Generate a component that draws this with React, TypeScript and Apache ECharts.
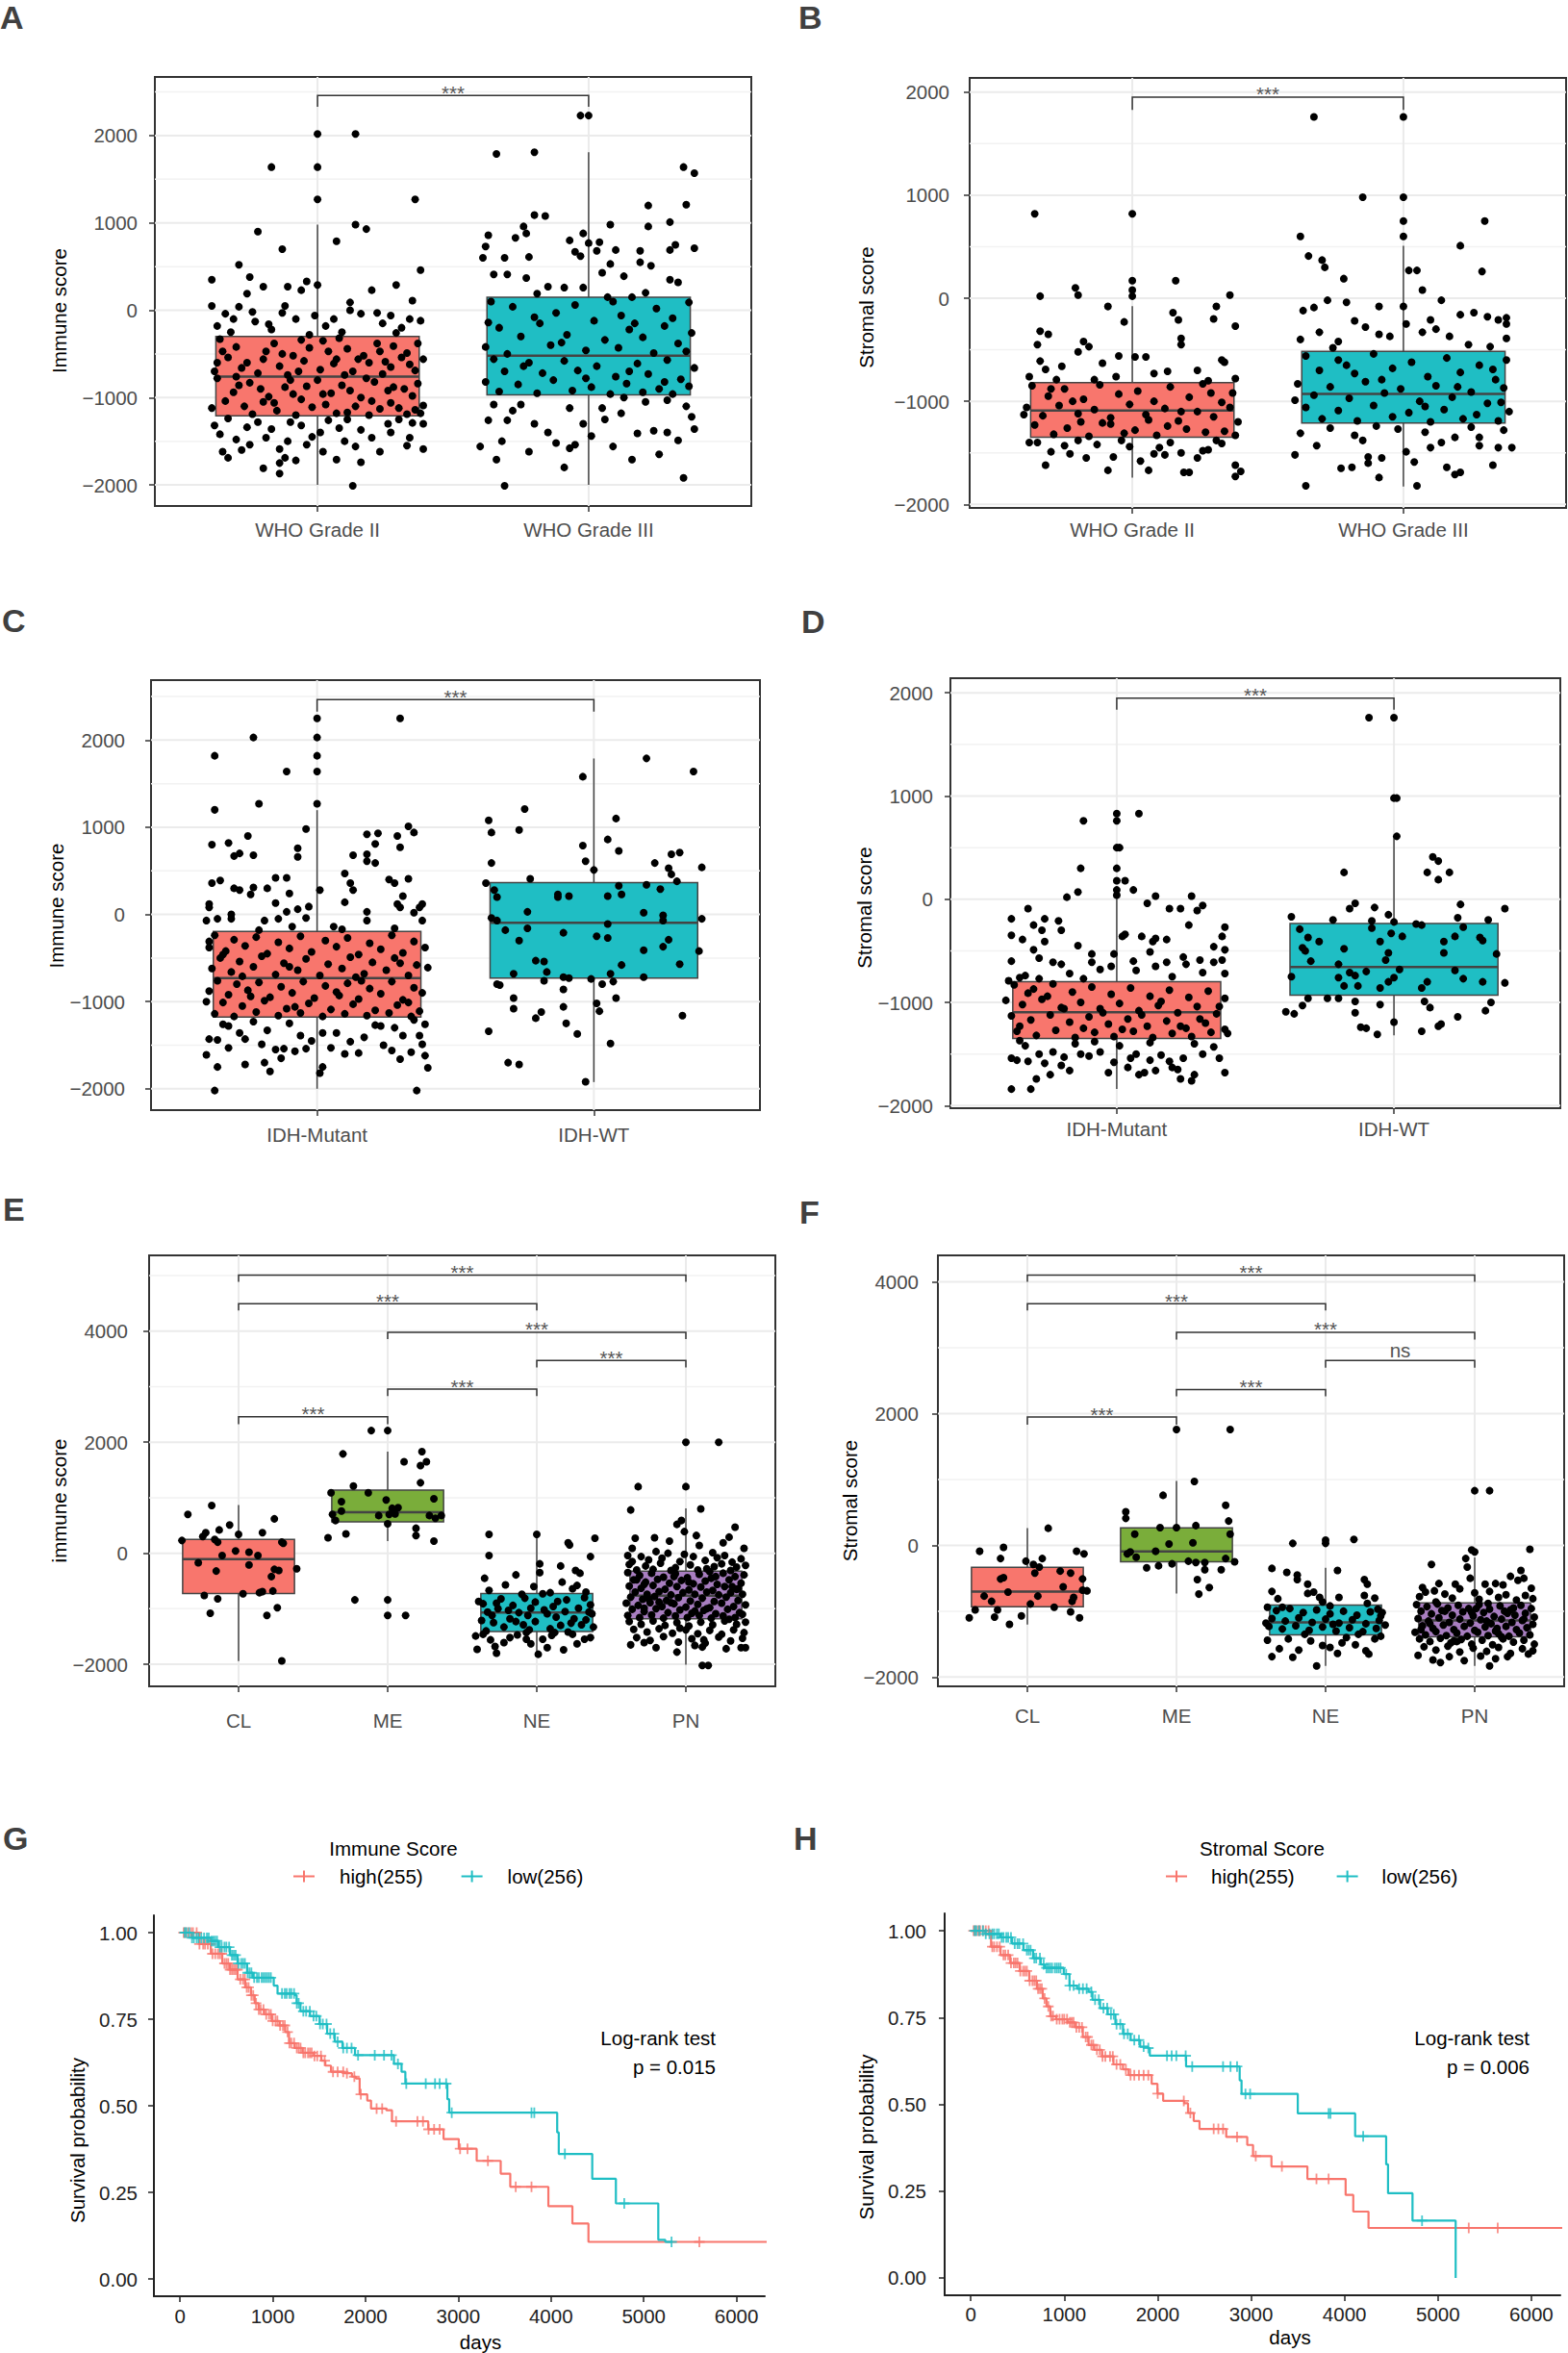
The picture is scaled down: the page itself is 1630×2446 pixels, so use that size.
import React, { useEffect, useRef } from 'react';
import * as echarts from 'echarts';

const FONT = 'Liberation Sans, Arial, Helvetica, sans-serif';
const FS = 20.5;
const RED = '#F8766D';
const GREEN = '#7AAD3A';
const CYAN = '#1FBEC4';
const PURPLE = '#A87EC0';

// ---------- categories ----------
const catsGrade = ['WHO Grade II', 'WHO Grade III'];
const catsIDH = ['IDH-Mutant', 'IDH-WT'];
const catsSub = ['CL', 'ME', 'NE', 'PN'];

// ---------- box statistics: [lower whisker, Q1, median, Q3, upper whisker] ----------
const boxA = [[-2000, -1210, -760, -300, 980], [-2000, -970, -520, 150, 1810]];
const boxB = [[-1740, -1350, -1090, -820, -76], [-1828, -1210, -928, -515, 509]];
const boxC = [[-2000, -1178, -731, -194, 1196], [-1923, -731, -95, 366, 1789]];
const boxD = [[-1839, -1348, -1094, -800, 20], [-1319, -930, -658, -236, 607]];
const boxE = [[-1944, -727, -106, 248, 870], [217, 565, 739, 1137, 1832], [-1820, -1410, -1068, -727, 373], [-2006, -1180, -764, -323, 807]];
const boxF = [[-1204, -932, -702, -335, 262], [-733, -251, -94, 267, 979], [-1832, -1361, -1168, -906, -340], [-1832, -1387, -1141, -874, -183]];

// ---------- significance brackets: [x1, x2, bar value, end value] ----------
const brA = [[1, 2, 2460, 2330]];
const brB = [[1, 2, 1952, 1828]];
const brC = [[1, 2, 2465, 2327]];
const brD = [[1, 2, 1949, 1836]];
const brE = [[1, 2, 2460, 2323], [2, 3, 2957, 2832], [3, 4, 3472, 3348], [2, 4, 3981, 3857], [1, 3, 4497, 4373], [1, 4, 5012, 4888]];
const brF = [[1, 2, 1948, 1832], [2, 3, 2366, 2262], [3, 4, 2806, 2696], [2, 4, 3236, 3126], [1, 3, 3670, 3565], [1, 4, 4105, 4000]];
const lblA = ['***'];
const lblE = ['***', '***', '***', '***', '***', '***'];
const lblF = ['***', '***', 'ns', '***', '***', '***'];

// ---------- jittered points: flat pairs [jitter (hundredths of a category), score] ----------
const ptsA_II = [
  14, 2020, 0, 2020, -17, 1640, 0, 1640, 0, 1270, 36, 1270, -22, 900, 14, 980, 18, 930, 7, 790, -13, 700, 38, 460, -29, 520, -39, 350, -25, 380, -4, 330, 0, 290, 20, 230, 29, 290, 35, 110, -26, 190, -20, 270, -11, 270, -6, 230, -12, 50, -39, 50, -29, 40, -34, -40, -13, -30, 12, 90, 12, 0, 27, -60, 34, -100, 6, -100, -1, -60, -37, -180, -8, -100, -31, -100, 24, -150, 31, -200, -17, -220, 9, -250, 38, -120, -3, -280, 16, -40, -23, -130,
  -32, -250, -18, -160, 22, -30, 3, -180, -24, -20, 29, -260,
  -36, -330, -30, -420, -19, -470, -9, -520, 2, -350, 11, -440, 22, -380, 33, -490, 39, -560, -26, -600, -14, -640, -5, -580, 6, -610, 17, -520, 27, -650, 36, -690, -38, -700, -22, -720, -11, -740, 1, -680, 13, -700, 24, -730, 31, -540, -33, -540, -3, -430, 8, -320, 19, -600, 28, -410, -16, -380, -28, -660, 37, -380, -7, -700, 15, -560, 4, -470, -20, -560, 25, -590, 10, -740, -35, -470,
  -37, -600, -6, -340, 23, -470, 34, -620, -13, -500, 7, -560,
  -37, -780, -25, -830, -12, -880, 0, -800, 9, -860, 21, -820, 32, -900, 39, -1090, -31, -940, -18, -990, -6, -1020, 5, -950, 16, -1000, 27, -1060, 35, -980, -39, -1120, -27, -1100, -15, -1150, -2, -1110, 11, -1170, 23, -1130, 33, -1190, -21, -900, 18, -780, -34, -1040, 3, -1080, 26, -920, -9, -960, 14, -1100, 37, -840, -29, -860, 7, -1180, -16, -1060, 30, -1120, -4, -870, 20, -1040, -24, -1190, 38, -1180, -10, -800, 12, -920,
  -30, -760, 2, -960, -20, -1050, 28, -880, 36, -1140, -8, -1200, 19, -1200,
  -38, -1320, -36, -1420, -35, -1620, -33, -1690, -20, -1810, -14, -1870, -14, -1750, -12, -1690, -28, -1600, -25, -1540, -4, -1540, 1, -1400, 7, -1710, 13, -2010, 14, -1560, 16, -1740, 20, -1460, 26, -1300, 34, -1460, 39, -1590, 39, -1300, 35, -1290, -11, -1500, -10, -1280, -6, -1320, 4, -1260, 10, -1500, 16, -1370, -17, -1360, -14, -1590, -19, -1460, -30, -1480, -26, -1340, 30, -1250, -2, -1450, 23, -1620, 8, -1350, -8, -1720,
  -33, -1240, 2, -1620, 27, -1400, 33, -1550, -22, -1280, 11, -1250,
];
const ptsA_III = [
  -3, 2230, 0, 2230,
  -34, 1790, -20, 1810, 35, 1640, 39, 1570, 22, 1200, 36, 1210, 8, 980, 30, 1010, -20, 1090, -16, 1080, -24, 960, -23, 880, -37, 860, -38, 730, -39, 600, 39, 710, 32, 750, 30, 690, 22, 960, -2, 880, 0, 770, 4, 780, 10, 690, 19, 680, -7, 800, -5, 670, -3, 620, -31, 600, -27, 830, -22, 610, 3, 680, 8, 530, 23, 510, 19, 550, -35, 410, -30, 410, -23, 370, 5, 430, 13, 390, 30, 350, 33, 320, -15, 270, -9, 260, -2, 260, 7, 150, 16, 150, 21, 200, -19, 190, -37, -140,
  -36, 100, -28, 40, -12, -30, -5, 60, 12, -60, 25, 20, 37, 90, -33, -200, -18, -150, 2, -120, 15, -220, 28, -180, 38, -260, -25, -300, -8, -280, 6, -340, 20, -310, 33, -380, -38, -420, -14, -400, -1, -460, 11, -430, 24, -490, 36, -470, -30, -500, -20, -80, 9, 100, 31, -90, -10, -370, 17, -150,
  -35, -560, -22, -600, -9, -580, 3, -640, 18, -610, 29, -570, 39, -660, -31, -700, -17, -720, -4, -690, 10, -760, 22, -730, 34, -790, -38, -820, -26, -850, -13, -800, 1, -880, 14, -840, 26, -900, 37, -870, -33, -930, -19, -950, -6, -920, 8, -960, 20, -940, 31, -960, -24, -640, 15, -700, -1, -780, 28, -820,
  -31, -2010, -9, -1800, 16, -1710, 35, -1920, -34, -1710, -40, -1560, -32, -1500, -12, -1520, -7, -1580, -5, -1540, 1, -1440, 9, -1560, 18, -1410, 24, -1380, 29, -1400, 33, -1490, 39, -1360, 38, -1220, -30, -1260, -25, -1080, -20, -1300, -37, -1260, -35, -1080, 5, -1120, 12, -1180, 21, -1050, 29, -1030, -7, -1120, -15, -1400, -2, -1300, 6, -1250, 26, -1650, -22, -1620, 13, -1000, -28, -1150, 36, -1100,
];
const ptsB_II = [
  -36, 820, 0, 820, 0, 170, 16, 170, 0, 80, 0, 20, -34, 20,
  -21, 100, -20, 30, -34, -320, -31, -350, 36, 30, 31, -80, 30, -200, 38, -270, 15, -140, 17, -210, -3, -230, -9, -80, 18, -390, 18, -450, -35, -450, -18, -420, -16, -470, -20, -520, 33, -600, 34, -620, -11, -630, -5, -560, 1, -570, 5, -570, -34, -610, -32, -690, -26, -660, 8, -730, 13, -710, -38, -760, -28, -790, 24, -700, 38, -780, -6, -760, 28, -800, -14, -790,
  -37, -850, -25, -880, -12, -840, 2, -900, 14, -860, 26, -830, 37, -920, -31, -950, -18, -980, -5, -930, 8, -1000, 21, -960, 33, -1010, -39, -1060, -27, -1040, -14, -1080, -1, -1030, 12, -1070, 24, -1100, 36, -1060, -33, -1140, -20, -1120, -8, -1160, 5, -1130, 17, -1190, 30, -1150, 39, -1200, -36, -1230, -24, -1260, -11, -1210, 1, -1280, 13, -1240, 27, -1300, -29, -1320, -16, -1340, -3, -1310, 9, -1330, 20, -1270, 34, -1290, -40, -1130, -22, -1000, 29, -920, -8, -1220, 18, -1100, 38, -1330, -30, -880, 6, -1180, -19, -1200,
  -32, -1620, -9, -1670, 6, -1670, 19, -1690, 21, -1690, 38, -1730, 40, -1680, 38, -1620, -17, -1550, -23, -1510, -7, -1540, 3, -1580, 8, -1510, 12, -1520, 18, -1500, 24, -1550, 26, -1480, -38, -1400, -35, -1400, -25, -1430, -13, -1420, -1, -1440, 14, -1400, 28, -1470, 33, -1410, -30, -1490, -4, -1380, 31, -1380, -20, -1380, 10, -1450,
];
const ptsB_III = [
  -33, 1760, 0, 1760, -15, 980, 0, 980, 0, 750, 30, 750, 0, 600, -38, 600,
  21, 510, -35, 410, -30, 370, -29, 300, -22, 190, 2, 270, 5, 270, 29, 260, 7, 80, -28, -20, -21, -40, 14, -20, -9, -80, 0, -80, -37, -120, -33, -90, 21, -160, 26, -140, 31, -180, 38, -190, 38, -250, 38, -390, 1, -250, 10, -210, -18, -220, -31, -330, -14, -280, -38, -400, 17, -370, 12, -300, 7, -330, -9, -350, -5, -370, -24, -420, 35, -210, 32, -470, -26, -480, 24, -450,
  -36, -560, -24, -600, -11, -540, 3, -620, 16, -580, 28, -650, 38, -600, -31, -700, -18, -730, -4, -680, 9, -760, 21, -720, 34, -790, -39, -830, -27, -860, -14, -810, -1, -880, 12, -850, 25, -910, 37, -870, -33, -940, -20, -970, -7, -920, 6, -1000, 18, -960, 31, -1020, -36, -1060, -24, -1090, -11, -1040, 2, -1110, 15, -1080, 27, -1130, 39, -1100, -30, -1170, -17, -1190, -4, -1150, 10, -1200, 22, -1170, 35, -1190, -40, -990, 33, -690, -21, -650, 8, -1050, -8, -790, 20, -860, 36, -1010,
  -36, -1820, 5, -1820, -9, -1740, -23, -1650, -19, -1640, -13, -1600, -13, -1540, -8, -1550, 1, -1490, 4, -1590, 16, -1640, 19, -1710, 21, -1690, 33, -1620, 35, -1450, 40, -1450, 14, -1400, 10, -1450, -40, -1520, -32, -1430, -18, -1330, -15, -1380, 28, -1430, -38, -1310, 19, -1350, 28, -1350, -27, -1260, -2, -1270, 8, -1300, 25, -1250, 37, -1280, -10, -1240,
];
const ptsC_MUT = [
  0, 2250, 30, 2250, -23, 2030, 0, 2030, -37, 1820, 0, 1820, -11, 1640, 0, 1640, -21, 1270, 0, 1270, -37, 1200,
  -38, 800, -32, 820, -25, 900, -30, 670, -28, 700, -23, 680, -7, 760, -7, 660, -4, 980, 18, 920, 22, 930, 21, 810, 29, 900, 30, 770, 35, 940, 33, 1010, 13, 680, 18, 690, 18, 610, 21, 590, 10, 470, 12, 360, 13, 280, 26, 400, 28, 360, 33, 410, -38, 360, -35, 390, -15, 420, -11, 420, -30, 300, -28, 280, -24, 230, -23, 310, -18, 300, -10, 240, 1, 280, 10, 140, 31, 210, 29, 120, 30, 80, 37, 80, 38, 120, -39, 120, -39, 80, -31, 0, -31, -50, -36, -50, -40, -70, -15, 130, -11, 30, -7, 60, -4, -40, -3, 90, 18, 30, 18, -70, 35, 20, 38, -70, -19, -70, -14, -50, -9, -140, 6, -140, 9, -170, -21, -180, -39, -310, 28, -160,
  -37, -240, -30, -290, -22, -260, -14, -320, -6, -250, 3, -300, 11, -270, 19, -330, 27, -240, 35, -310, -39, -380, -33, -420, -26, -360, -18, -450, -10, -390, -2, -430, 7, -370, 15, -460, 23, -400, 31, -440, 39, -380, -35, -500, -28, -540, -20, -480, -12, -560, -4, -510, 4, -570, 12, -490, 20, -550, 28, -500, 36, -580, -38, -620, -31, -660, -23, -600, -15, -690, -7, -640, 1, -700, 9, -620, 17, -680, 25, -640, 33, -700, 40, -610, -27, -710, 14, -720, -10, -600, 30, -560, -34, -460,
  -36, -760, -29, -800, -21, -780, -13, -830, -5, -770, 3, -820, 11, -790, 19, -850, 27, -770, 35, -840, -39, -880, -32, -920, -25, -870, -17, -950, -9, -900, -1, -960, 7, -890, 15, -970, 23, -910, 31, -980, 38, -900, -34, -1010, -27, -1050, -19, -990, -11, -1080, -3, -1020, 5, -1090, 13, -1030, 21, -1100, 29, -1040, 37, -1110, -37, -1140, -30, -1170, -22, -1120, -14, -1160, -6, -1130, 2, -1170, 10, -1140, 18, -1160, 26, -1130, 34, -1170, -24, -940, 16, -760, -8, -1060, 33, -1010, -40, -1000, 8, -930,
  -40, -1610, -36, -1750, -26, -1720, -19, -1700, -17, -1800, 1, -1820, 2, -1750, -37, -2020, 36, -2020, 40, -1760, 39, -1620, 38, -1490, 34, -1580, 27, -1560, 24, -1500, 15, -1590, 10, -1600, 5, -1530, -4, -1540, -8, -1570, -12, -1540, -15, -1550, -20, -1490, -32, -1530, -36, -1440, -39, -1430, -26, -1430, -32, -1280, -34, -1260, -28, -1360, -6, -1390, -2, -1450, 2, -1360, 7, -1360, 12, -1460, 21, -1270, 23, -1280, 28, -1300, 31, -1390, 37, -1390, 39, -1260, 35, -1210, -23, -1230, -10, -1250, 17, -1410, -18, -1330, 30, -1660, -13, -1650,
];
const ptsC_WT = [
  19, 1790, 36, 1640, -4, 1580, -25, 1210, 8, 1100, -38, 1080, -37, 940, -27, 970, 5, 860, -4, 790, 9, 730, -37, 590, -3, 610, 0, 510, 22, 590, 28, 690, 31, 710, 27, 530, 28, 460, 39, 540, -23, 410, -39, 360, -36, 280, 9, 330, 19, 340, 24, 290, 30, 380, -13, 230, -13, 200, -9, 210, 10, 230, 5, 210, -35, 200, -24, 30, 18, 20, 25, -10, 25, -70, 39, -50, -37, -40, -35, -70, 5, -110, -32, -180, -24, -160, -11, -210, 1, -250, 5, -270, -27, -300, 27, -290, 25, -370, 18, -410, 38, -420, -21, -530, -18, -540, 10, -580, 31, -570, -29, -680, 6, -680, -17, -660, -18, -760, 18, -720, -11, -720, -9, -730, -1, -740, -35, -800, -34, -810, 3, -800, 7, -770, -11, -860, -29, -960, 8, -960, 1, -1020, 2, -1110, -29, -1080, -19, -1120, -21, -1190, -11, -1060, -10, -1250, -6, -1370, 32, -1160, -38, -1340, 6, -1480, -31, -1700, -27, -1720, -3, -1920,
];
const ptsD_MUT = [
  0, 830, 8, 830, -12, 760, 0, 760, 0, 500, 1, 500, -13, 300, 0, 300, 0, 180, 3, 180, 0, 90, 0, 40, 6, 90,
  -14, 70, -18, 20, 14, 30, 27, 30, 11, -40, 19, -90, 23, -90, 29, -110, 31, -60, -32, -90, -38, -190, -30, -250, -26, -190, -27, -300, -21, -210, -20, -300, 26, -250, 39, -270, 38, -360, -38, -350, -34, -390, -26, -410, -30, -490, -14, -450, 2, -360, 3, -340, 9, -360, 13, -410, 14, -380, 18, -390, 35, -460, 39, -490, -38, -600, -28, -570, -23, -610, -20, -630, -9, -530, -9, -610, -6, -680, -1, -530, -2, -650, 6, -600, 12, -510, 14, -650, 18, -610, 24, -560, 25, -630, 30, -590, 35, -610, 38, -590, 39, -720, -39, -790, -35, -760, -33, -740, -28, -770, 7, -690, 31, -710, -17, -720, -12, -770, 20, -750,
  -37, -830, -30, -870, -23, -820, -16, -900, -9, -850, -2, -920, 5, -860, 12, -940, 19, -880, 26, -950, 33, -890, 39, -960, -40, -980, -34, -1020, -27, -970, -20, -1050, -13, -1000, -6, -1060, 1, -1010, 8, -1080, 15, -1030, 22, -1100, 29, -1040, 36, -1110, -38, -1130, -31, -1170, -24, -1120, -17, -1190, -10, -1140, -3, -1210, 4, -1160, 11, -1230, 18, -1180, 25, -1250, 32, -1200, 39, -1260, -36, -1280, -29, -1320, -22, -1270, -15, -1340, -8, -1290, -1, -1330, 6, -1280, 13, -1340, 20, -1300, 27, -1330, 34, -1290, -25, -940, 9, -1120, -12, -1250, 30, -1160, -35, -1230, 16, -990, -5, -1100, 23, -1230, -19, -1060, 37, -1040, -32, -910, 2, -1260,
  -38, -1840, -31, -1840, -29, -1740, -24, -1700, -17, -1660, -20, -1610, -3, -1680, 4, -1630, 8, -1700, 10, -1680, 14, -1660, 20, -1630, 22, -1650, 23, -1740, 27, -1760, 28, -1700, 39, -1680, -38, -1540, -36, -1560, -32, -1570, -28, -1500, -26, -1590, -23, -1480, -19, -1530, -13, -1500, -10, -1520, -6, -1480, -1, -1580, 5, -1540, 7, -1500, 12, -1560, 16, -1510, 19, -1570, 24, -1540, 31, -1500, 35, -1430, 37, -1540, 40, -1300, -33, -1420, -15, -1400, 1, -1420, 28, -1400, -8, -1380, 12, -1390, -35, -1370,
];
const ptsD_WT = [
  -9, 1760, 0, 1760, 0, 980, 1, 980, 1, 610, 14, 410, 16, 370, 12, 260, 20, 260, -18, 260, 16, 190, -14, -40, -16, -90, -7, -80, 24, -50, 40, -90, -37, -170, -22, -200, -8, -210, 0, -220, -2, -150, 8, -240, 10, -250, 23, -180, 25, -270, 34, -200, -34, -290, -8, -280, -1, -330, 3, -360, 22, -360, 31, -370, 32, -400, -31, -370, -27, -410, -5, -410, 18, -410, -33, -470, -32, -500, -18, -480, -2, -520, 18, -520, -30, -600, -3, -590, -20, -630, 2, -680, 22, -690, 37, -530, -37, -750, -20, -760, -16, -710, -14, -740, -10, -700, 0, -760, -2, -800, 12, -800, 25, -770, 32, -800, 40, -810, -18, -840, -13, -840, -5, -860, 10, -860, -31, -960, -24, -960, -20, -960, -39, -1090, -36, -1110, -33, -1030, -14, -990, -14, -1100, -5, -1020, 11, -990, 13, -1050, 17, -1210, 23, -1140, 35, -1000, 33, -1080, -12, -1240, -10, -1250, -6, -1310, 0, -1190, 10, -1280, 16, -1230,
];
const ptsE_CL = [
  -18, 860, -34, 700, 24, 620, -6, 510, -13, 420, 16, 370, 0, 340, -22, 370, -24, 300, -38, 230, -16, 250, -14, 200, 29, 200, 30, 180, -2, 40, 7, 20, -11, -40, 13, -40, -27, -170, 7, -210, 39, -280, 27, -310, 24, -290, 22, -420, -15, -320, 3, -730, 14, -710, 16, -690, 23, -680, -23, -760, -14, -820, 26, -980, 19, -1120, -19, -1080, 29, -1940,
];
const ptsE_ME = [
  -11, 2210, 0, 2210, -22, -840, 0, -840, 0, -1120, 12, -1120,
  23, 1830, -30, 1790, 11, 1650, 26, 1650, 22, 1580, 22, 1270, -23, 1210, -38, 1090, -13, 1090, 31, 980, -1, 960, -31, 930, 3, 810, 7, 820, -31, 760, -37, 700, -6, 680, 1, 700, 5, 710, 28, 680, 32, 630, 36, 680, -35, 590, 0, 530, -28, 350, 19, 450, 19, 320, -40, 280, 31, 220,
];
const ptsE_NE = [
  -32, 340, 0, 340, 39, 270, 21, 190, 22, 150, -32, -40, 36, -60, 2, -190, 16, -230, -14, -390, 2, -350, 26, -310, 29, -360, -35, -450, 17, -520, -21, -570, 27, -580, -2, -600, 24, -640, -32, -670, 9, -710, 4, -730, 33, -700, -10, -740,
  -39, -870, -36, -910, -27, -900, -8, -810, -1, -880, 20, -840, 32, -800, 35, -1060, 37, -1090, -19, -1030, -12, -1070, -4, -990, 7, -1090, 13, -1150, 25, -1180, -37, -1210, -29, -1250, -22, -1330, -9, -1290, -1, -1230, 16, -1300, 30, -1290, 38, -1330, -34, -1400, -26, -1000, 11, -960, -16, -940, 28, -990, 5, -1020, -30, -1120, 19, -1050, -5, -1380, 33, -1200, -18, -1180,
  -24, -820, 14, -870, 36, -930, -6, -1120, 23, -1260, -33, -1060, 9, -1360, -14, -1230,
  -7, -1430, 12, -1430, 21, -1420, 32, -1550, -41, -1490, -31, -1560, -28, -1680, -27, -1800, -40, -1730, -18, -1520, -7, -1550, -4, -1630, 7, -1700, 18, -1740, 4, -1550, 24, -1460, 36, -1520, -13, -1470, 27, -1630, -22, -1610, 1, -1820, 10, -1480, -36, -1460,
];
const ptsE_PN = [
  0, 2000, 22, 2000, -32, 1200, 0, 1200, 11, -2020, 15, -2020,
  10, 800, -37, 780, -6, 520, -3, 590, 33, 470, 7, 320, -1, 390, -34, 270, -21, 280, -11, 220, 29, 290, 39, 90, -36, 90, 9, 140, 25, 190, -20, 30, -12, 0, 18, 10, -39, -40,
  -30, -60, -25, -120, -16, -90, -4, -150, 5, -60, 13, -130, 21, -80, 31, -160, 37, -100, -38, -200, -27, -230, -17, -180, -7, -260, 3, -210, 14, -280, 24, -190, 34, -250, -33, -300, -22, -290, -10, -310, 8, -300, 19, -240, 30, -310, 40, -220, -36, -150, 26, -40, -1, -20,
  -39, -350, -31, -400, -23, -360, -15, -430, -7, -370, 1, -440, 9, -380, 17, -450, 25, -360, 33, -420, 39, -390, -35, -480, -27, -520, -19, -470, -11, -540, -3, -490, 5, -550, 13, -500, 21, -560, 29, -480, 37, -540, -38, -590, -30, -630, -22, -580, -14, -650, -6, -600, 2, -660, 10, -610, 18, -670, 26, -600, 34, -650, -34, -700, -26, -740, -18, -690, -10, -750, -2, -710, 6, -740, 14, -700, 22, -750, 30, -710, 38, -740, -8, -420, 16, -330, -28, -560, 31, -600, 2, -520,
  -37, -790, -29, -830, -21, -780, -13, -850, -5, -800, 3, -860, 11, -810, 19, -870, 27, -790, 35, -850, -40, -900, -32, -940, -24, -890, -16, -960, -8, -910, 0, -970, 8, -920, 16, -980, 24, -900, 32, -960, 40, -930, -36, -1010, -28, -1050, -20, -1000, -12, -1070, -4, -1020, 4, -1080, 12, -1030, 20, -1090, 28, -1010, 36, -1070, -39, -1120, -31, -1160, -23, -1110, -15, -1170, -7, -1130, 1, -1160, 9, -1120, 17, -1170, 25, -1130, 33, -1160, -10, -890, 14, -1000, 38, -1100, -25, -820, 6, -1040,
  -38, -1230, -30, -1280, -22, -1220, -14, -1300, -6, -1250, 2, -1310, 10, -1240, 18, -1290, 26, -1220, 34, -1280, 40, -1240, -35, -1370, -26, -1420, -18, -1360, -9, -1440, 0, -1380, 8, -1450, 16, -1390, 24, -1460, 32, -1380, 39, -1430, -33, -1520, -24, -1570, -15, -1500, -5, -1600, 4, -1540, 13, -1620, 22, -1510, 30, -1580, 38, -1530, -37, -1650, -20, -1700, -6, -1780, 11, -1690, 27, -1720, 37, -1700, 40, -1700, -28, -1610, 6, -1660,
  -33, -480, 20, -420, -18, -880, 29, -1190, -4, -1350, 35, -640, -28, -990, 12, -1560,
];
const ptsF_CL = [
  14, 260, -32, -90, -16, -30, -1, -240, 10, -200, -18, -200, 4, -290, 8, -330, 33, -90, 38, -130, 22, -390, 29, -420, 5, -420, -16, -490, -18, -510, 37, -510, 24, -630, 37, -680, 40, -690, -13, -710, 31, -790, -29, -770, 7, -770, -24, -850, 2, -890, 30, -850, 18, -940, -20, -980, -35, -980, -39, -1100, -22, -1090, -4, -1070, 29, -1010, 35, -1100, -12, -1200,
];
const ptsF_ME = [
  0, 1760, 36, 1760,
  12, 970, -9, 760, 33, 610, -34, 510, -34, 410, 35, 370, -11, 270, 0, 270, 13, 300, -28, 170, 36, 170, -5, 20, 11, 40, -31, -100, -33, -130, -14, -90, -27, -180, -12, -310, -20, -340, -3, -280, 8, -240, 13, -260, 19, -260, 19, -370, 30, -370, 33, -200, 39, -250, 14, -520, 22, -640, 15, -740,
];
const ptsF_NE = [
  -22, 30, 0, 80, 0, 30, 19, 90, -36, -350, 8, -380, -26, -410, -19, -450, -19, -520, -12, -590, 26, -520, 28, -590, -36, -700, -12, -730, -8, -710, -4, -790, -32, -810, 9, -790, -2, -860, 26, -760, 33, -800, 28, -880, -29, -940, 3, -920, 35, -970, 38, -1020,
  -39, -940, -33, -990, -24, -960, -15, -1020, -6, -980, 3, -1040, 12, -1000, 21, -1060, 30, -1010, 37, -1070, -36, -1110, -27, -1150, -18, -1100, -9, -1170, 0, -1120, 9, -1180, 18, -1130, 27, -1190, 36, -1140, -38, -1230, -29, -1270, -20, -1220, -11, -1290, -2, -1240, 7, -1300, 16, -1250, 25, -1310, 34, -1260, 40, -1210, -40, -1180, -14, -1350, 22, -1350, 5, -1200,
  -39, -1440, -31, -1570, -36, -1690, -18, -1590, -6, -1830, 3, -1550, 11, -1480, 20, -1510, 27, -1600, 29, -1650, -25, -1420, -10, -1450, 14, -1400, 33, -1420, -2, -1520, 37, -1380, -22, -1700, 8, -1640,
];
const ptsF_PN = [
  0, 830, 10, 830, 0, -100, -2, -70, 37, -60,
  -29, -290, -5, -330, -6, -200, 31, -380, 24, -470, 29, -530, 33, -500, -24, -580, -13, -590, 7, -590, 14, -580, 19, -600, 38, -650, -33, -710, -27, -690, -20, -740, -10, -660, 0, -720, 10, -700, 21, -750, 34, -760, -37, -780, -15, -800, 3, -820, 16, -790, 28, -830, 39, -810, -3, -500, -35, -640,
  -39, -900, -32, -930, -25, -890, -18, -950, -11, -910, -4, -960, 3, -900, 10, -970, 17, -920, 24, -980, 31, -910, 38, -960, -36, -1000, -29, -1040, -22, -990, -15, -1060, -8, -1010, -1, -1070, 6, -1020, 13, -1080, 20, -1000, 27, -1060, 34, -1030, 40, -1090, -38, -1110, -31, -1150, -24, -1100, -17, -1170, -10, -1120, -3, -1180, 4, -1130, 11, -1190, 18, -1120, 25, -1170, 32, -1140, 39, -1200, -35, -1220, -28, -1260, -21, -1210, -14, -1280, -7, -1230, 0, -1290, 7, -1240, 14, -1300, 21, -1230, 28, -1280, 35, -1250, -40, -1320, -33, -1360, -26, -1310, -19, -1370, -12, -1330, -5, -1380, 2, -1320, 9, -1370, 16, -1340, 23, -1380, 30, -1330, 37, -1360, -20, -1000, 8, -1150, -30, -1190, 26, -950, -2, -1020, 15, -1260,
  -37, -1420, -30, -1460, -23, -1410, -16, -1480, -9, -1430, -2, -1500, 5, -1440, 12, -1510, 19, -1420, 26, -1470, 33, -1440, 40, -1500, -34, -1540, -26, -1590, -18, -1530, -10, -1620, -1, -1560, 8, -1610, 16, -1550, 24, -1640, 32, -1570, 39, -1600, -38, -1670, -28, -1740, -17, -1690, -7, -1750, 4, -1680, 14, -1720, 22, -1690, 36, -1650, -23, -1780, 10, -1830, -12, -1460,
  -26, -860, 9, -880, 33, -1120, -14, -1450, 22, -1030, -36, -1280, 1, -960, 18, -1390,
];

// ---------- Kaplan-Meier curves: event times (days) and survival after each step ----------
const gHighT = [0, 210, 333, 456, 539, 621, 703, 765, 806, 847, 909, 991, 1073, 1135, 1176, 1238, 1320, 1443, 1525, 1567, 1628, 1772, 1854, 1896, 1937, 2019, 2060, 2225, 2286, 2677, 2842, 3006, 3199, 3458, 3561, 3972, 4231, 4404, 6400];
const gHighS = [1, 0.967, 0.939, 0.911, 0.893, 0.865, 0.842, 0.819, 0.796, 0.778, 0.764, 0.745, 0.732, 0.713, 0.681, 0.667, 0.653, 0.644, 0.63, 0.616, 0.598, 0.594, 0.584, 0.579, 0.533, 0.515, 0.492, 0.487, 0.455, 0.432, 0.404, 0.376, 0.341, 0.304, 0.266, 0.21, 0.16, 0.107, 0.107];
const gLowT = [0, 127, 333, 415, 539, 621, 724, 786, 1011, 1052, 1238, 1258, 1299, 1402, 1505, 1587, 1669, 1752, 1887, 2307, 2389, 2430, 2883, 2903, 4067, 4084, 4445, 4700, 5157, 5232, 5310];
const gLowS = [1, 0.985, 0.976, 0.958, 0.935, 0.911, 0.884, 0.87, 0.847, 0.824, 0.819, 0.796, 0.773, 0.759, 0.736, 0.708, 0.685, 0.667, 0.646, 0.621, 0.598, 0.564, 0.519, 0.48, 0.423, 0.361, 0.289, 0.218, 0.113, 0.107, 0.107];
const hHighT = [0, 217, 319, 422, 524, 626, 708, 770, 810, 851, 913, 1036, 1118, 1199, 1261, 1322, 1404, 1527, 1629, 1690, 1936, 1998, 2059, 2284, 2325, 2386, 2448, 2734, 2959, 3021, 3218, 3603, 4012, 4094, 4257, 6400];
const hHighS = [1, 0.954, 0.93, 0.907, 0.884, 0.856, 0.833, 0.805, 0.782, 0.754, 0.745, 0.736, 0.722, 0.694, 0.671, 0.657, 0.638, 0.615, 0.601, 0.584, 0.559, 0.531, 0.51, 0.503, 0.475, 0.452, 0.429, 0.406, 0.383, 0.351, 0.321, 0.285, 0.239, 0.191, 0.144, 0.144];
const hLowT = [0, 156, 319, 442, 565, 667, 749, 790, 995, 1056, 1138, 1261, 1302, 1384, 1466, 1548, 1629, 1711, 1813, 1895, 1916, 2304, 2878, 2898, 3500, 4114, 4446, 4466, 4728, 5190];
const hLowS = [1, 0.991, 0.981, 0.963, 0.944, 0.921, 0.903, 0.893, 0.875, 0.842, 0.833, 0.824, 0.801, 0.777, 0.759, 0.731, 0.703, 0.685, 0.666, 0.662, 0.64, 0.609, 0.569, 0.53, 0.474, 0.408, 0.327, 0.244, 0.165, 0];
// censoring times (days)
const gHighC = [40, 60, 90, 120, 140, 180, 210, 250, 270, 300, 330, 350, 380, 410, 430, 450, 480, 500, 520, 540, 560, 580, 600, 620, 650, 680, 700, 720, 740, 770, 790, 820, 850, 870, 900, 930, 960, 980, 1000, 1030, 1050, 1080, 1110, 1130, 1160, 1180, 1200, 1230, 1260, 1280, 1300, 1330, 1350, 1380, 1400, 1420, 1450, 1480, 1520, 1560, 1650, 1700, 1760, 1800, 1880, 1950, 2120, 2180, 2330, 2560, 2620, 2680, 2740, 2800, 3020, 3100, 3320, 3620, 3790, 5600];
const gLowC = [50, 70, 100, 130, 150, 180, 200, 230, 260, 290, 310, 340, 360, 380, 400, 430, 450, 480, 500, 530, 560, 580, 600, 630, 660, 680, 700, 730, 750, 770, 800, 830, 850, 880, 900, 920, 940, 960, 980, 1100, 1130, 1150, 1180, 1200, 1230, 1260, 1280, 1330, 1360, 1400, 1440, 1470, 1510, 1540, 1580, 1620, 1660, 1700, 1760, 1800, 1850, 1920, 2100, 2200, 2280, 2350, 2440, 2650, 2750, 2800, 2870, 2930, 3790, 3820, 4150, 4790, 5300];
const hHighC = [30, 50, 80, 100, 130, 160, 190, 230, 250, 280, 310, 350, 370, 400, 430, 460, 480, 500, 530, 560, 580, 600, 630, 660, 680, 700, 720, 740, 760, 790, 830, 860, 880, 920, 950, 980, 1000, 1030, 1060, 1080, 1100, 1130, 1160, 1190, 1230, 1250, 1290, 1310, 1350, 1380, 1410, 1440, 1490, 1520, 1560, 1600, 1660, 1710, 1750, 1800, 1850, 1900, 2000, 2280, 2350, 2600, 2650, 2700, 2850, 3050, 3330, 3700, 3830, 5330, 5640];
const hLowC = [40, 60, 90, 130, 160, 200, 230, 250, 280, 300, 330, 350, 380, 400, 430, 470, 500, 520, 560, 600, 620, 640, 680, 700, 740, 780, 810, 830, 850, 870, 900, 920, 940, 960, 1020, 1060, 1100, 1160, 1200, 1240, 1290, 1330, 1370, 1420, 1460, 1500, 1530, 1560, 1600, 1640, 1680, 1750, 1800, 1850, 1900, 2100, 2150, 2200, 2300, 2370, 2700, 2780, 2850, 2940, 2990, 3830, 3850, 4200, 4830];

const kmTicksX = [0, 1000, 2000, 3000, 4000, 5000, 6000];
const kmTicksY = [0, 0.25, 0.5, 0.75, 1];

// ---------- helpers ----------
const minus = (v: number) => (v < 0 ? '\u2212' + Math.abs(v) : String(v));
const PLUS = 'path://M0,5H12V7H0Z M5,0H7V12H5Z';
const LEG_ICON = 'path://M0,6H22V8H0Z M10,1H12V13H10Z';

function survAt(ts: number[], ss: number[], t: number) {
  let v = ss[0];
  for (let i = 0; i < ts.length; i++) {
    if (ts[i] <= t) v = ss[i];
    else break;
  }
  return v;
}

type BoxSpec = {
  grid: { left: number; top: number; width: number; height: number };
  yMin: number; yMax: number; majors: number[]; minors: number[];
  cats: string[]; boxes: number[][]; colors: string[]; points: number[][];
  brackets: number[][]; labels: string[];
  yName: string; nameGap: number; nameShift: number; xMargin: number; yMargin: number;
};

function addBoxPanel(opt: any, gi: number, p: BoxSpec) {
  const n = p.cats.length;
  const catVals = p.cats.map((_, i) => i + 1);
  opt.grid.push({ ...p.grid, show: true, borderColor: '#333', borderWidth: 2, backgroundColor: '#fff' });
  opt.xAxis.push({
    type: 'value', gridIndex: gi, min: 0.4, max: n + 0.6,
    axisLine: { show: false, onZero: false }, splitLine: { show: false },
    axisTick: { show: true, length: 6, lineStyle: { color: '#333', width: 1.5 }, customValues: catVals },
    axisLabel: { customValues: catVals, formatter: (v: number) => p.cats[Math.round(v) - 1] || '', color: '#4d4d4d', fontSize: FS, fontFamily: FONT, margin: p.xMargin },
  });
  opt.yAxis.push({
    type: 'value', gridIndex: gi, min: p.yMin, max: p.yMax,
    axisLine: { show: false, onZero: false }, splitLine: { show: false },
    axisTick: { show: true, length: 6, lineStyle: { color: '#333', width: 1.5 }, customValues: p.majors },
    axisLabel: { customValues: p.majors, formatter: minus, color: '#4d4d4d', fontSize: FS, fontFamily: FONT, margin: p.yMargin },
    name: p.yName, nameLocation: 'middle', nameGap: p.nameGap,
    nameTextStyle: { color: '#000', fontSize: FS, fontFamily: FONT, padding: [0, 2 * p.nameShift, 0, 0] },
  });
  // horizontal grid lines
  opt.series.push({
    type: 'custom', xAxisIndex: gi, yAxisIndex: gi, z: 1, silent: true,
    data: [...p.majors.map((v) => [v, 1]), ...p.minors.map((v) => [v, 0])],
    renderItem: (params: any, api: any) => {
      const cs = params.coordSys;
      const y = api.coord([1, api.value(0)])[1];
      const major = api.value(1) === 1;
      return { type: 'line', shape: { x1: cs.x, y1: y, x2: cs.x + cs.width, y2: y }, style: { stroke: major ? '#EBEBEB' : '#F2F2F2', lineWidth: major ? 2 : 1.5 } };
    },
  });
  // vertical grid lines
  opt.series.push({
    type: 'custom', xAxisIndex: gi, yAxisIndex: gi, z: 1, silent: true,
    data: catVals.map((v) => [v, 0]),
    renderItem: (params: any, api: any) => {
      const cs = params.coordSys;
      const x = api.coord([api.value(0), p.yMin])[0];
      return { type: 'line', shape: { x1: x, y1: cs.y, x2: x, y2: cs.y + cs.height }, style: { stroke: '#EBEBEB', lineWidth: 2 } };
    },
  });
  // boxes
  opt.series.push({
    type: 'custom', xAxisIndex: gi, yAxisIndex: gi, z: 2, silent: true,
    data: p.boxes.map((b, i) => [i + 1, ...b]),
    renderItem: (params: any, api: any) => {
      const x = api.value(0);
      const lo = api.value(1), q1 = api.value(2), md = api.value(3), q3 = api.value(4), hi = api.value(5);
      const tl = api.coord([x - 0.375, q3]);
      const br = api.coord([x + 0.375, q1]);
      const c = (v: number) => api.coord([x, v]);
      const m1 = api.coord([x - 0.375, md]);
      const m2 = api.coord([x + 0.375, md]);
      const line = { stroke: '#444', lineWidth: 1.5 };
      return {
        type: 'group',
        children: [
          { type: 'line', shape: { x1: c(hi)[0], y1: c(hi)[1], x2: c(q3)[0], y2: c(q3)[1] }, style: line },
          { type: 'line', shape: { x1: c(q1)[0], y1: c(q1)[1], x2: c(lo)[0], y2: c(lo)[1] }, style: line },
          { type: 'rect', shape: { x: tl[0], y: tl[1], width: br[0] - tl[0], height: br[1] - tl[1] }, style: { fill: p.colors[params.dataIndex], stroke: '#444', lineWidth: 1.5 } },
          { type: 'line', shape: { x1: m1[0], y1: m1[1], x2: m2[0], y2: m2[1] }, style: { stroke: '#444', lineWidth: 2.5 } },
        ],
      };
    },
  });
  // jittered points
  const pts: number[][] = [];
  p.points.forEach((arr, gIdx) => {
    for (let k = 0; k + 1 < arr.length; k += 2) pts.push([gIdx + 1 + arr[k] / 100, arr[k + 1]]);
  });
  opt.series.push({
    type: 'scatter', xAxisIndex: gi, yAxisIndex: gi, z: 3, silent: true,
    symbolSize: 8, itemStyle: { color: '#000', opacity: 1 }, data: pts,
  });
  // brackets
  opt.series.push({
    type: 'custom', xAxisIndex: gi, yAxisIndex: gi, z: 4, silent: true,
    data: p.brackets,
    renderItem: (params: any, api: any) => {
      const a = api.coord([api.value(0), api.value(3)]);
      const b = api.coord([api.value(0), api.value(2)]);
      const c = api.coord([api.value(1), api.value(2)]);
      const d = api.coord([api.value(1), api.value(3)]);
      const lbl = p.labels[params.dataIndex];
      return {
        type: 'group',
        children: [
          { type: 'polyline', shape: { points: [a, b, c, d] }, style: { stroke: '#333', lineWidth: 1.5, fill: 'none' } },
          { type: 'text', x: (b[0] + c[0]) / 2, y: b[1] - (lbl === 'ns' ? 11 : 3), style: { text: lbl, fill: '#555', fontSize: FS, fontFamily: FONT, align: 'center', verticalAlign: 'middle' } },
        ],
      };
    },
  });
}

type KmSpec = {
  grid: { left: number; top: number; width: number; height: number };
  xMin: number; xMax: number;
  hiT: number[]; hiS: number[]; loT: number[]; loS: number[]; hiC: number[]; loC: number[];
  nameGapY: number; nameShiftY: number; nameGapX: number; nameShiftX: number; xMargin: number; yMargin: number;
};

function addKmPanel(opt: any, gi: number, p: KmSpec) {
  opt.grid.push({ ...p.grid, show: false });
  opt.xAxis.push({
    type: 'value', gridIndex: gi, min: p.xMin, max: p.xMax,
    axisLine: { show: true, onZero: false, lineStyle: { color: '#222', width: 2 } }, splitLine: { show: false },
    axisTick: { show: true, length: 6, lineStyle: { color: '#222', width: 1.5 }, customValues: kmTicksX },
    axisLabel: { customValues: kmTicksX, formatter: (v: number) => String(v), color: '#222', fontSize: FS, fontFamily: FONT, margin: p.xMargin },
    name: 'days', nameLocation: 'middle', nameGap: p.nameGapX,
    nameTextStyle: { color: '#000', fontSize: FS, fontFamily: FONT, padding: [0, 0, 0, 2 * p.nameShiftX] },
  });
  opt.yAxis.push({
    type: 'value', gridIndex: gi, min: -0.05, max: 1.05,
    axisLine: { show: true, onZero: false, lineStyle: { color: '#222', width: 2 } }, splitLine: { show: false },
    axisTick: { show: true, length: 6, lineStyle: { color: '#222', width: 1.5 }, customValues: kmTicksY },
    axisLabel: { customValues: kmTicksY, formatter: (v: number) => v.toFixed(2), color: '#222', fontSize: FS, fontFamily: FONT, margin: p.yMargin },
    name: 'Survival probability', nameLocation: 'middle', nameGap: p.nameGapY,
    nameTextStyle: { color: '#000', fontSize: FS, fontFamily: FONT, padding: [0, 2 * p.nameShiftY, 0, 0] },
  });
  const curve = (name: string, color: string, ts: number[], ss: number[], cs: number[]) => {
    opt.series.push({
      type: 'line', name, xAxisIndex: gi, yAxisIndex: gi, step: 'end', showSymbol: false, symbol: 'none', silent: true, z: 3,
      lineStyle: { color, width: 2.2 }, itemStyle: { color }, data: ts.map((t, i) => [t, ss[i]]),
    });
    opt.series.push({
      type: 'scatter', name, xAxisIndex: gi, yAxisIndex: gi, symbol: PLUS, symbolSize: 11, silent: true, z: 4,
      itemStyle: { color }, data: cs.map((t) => [t, survAt(ts, ss, t)]),
    });
  };
  curve('high(255)', RED, p.hiT, p.hiS, p.hiC);
  curve('low(256)', CYAN, p.loT, p.loS, p.loC);
}

function buildOption() {
  const opt: any = {
    animation: false,
    backgroundColor: '#fff',
    textStyle: { fontFamily: FONT },
    grid: [], xAxis: [], yAxis: [], series: [],
  };
  const mj4 = [-2000, -1000, 0, 1000, 2000];
  addBoxPanel(opt, 0, {
    grid: { left: 161, top: 80, width: 620, height: 446 }, yMin: -2242, yMax: 2672, majors: mj4, minors: [-1500, -500, 500, 1500, 2500],
    cats: catsGrade, boxes: boxA, colors: [RED, CYAN], points: [ptsA_II, ptsA_III], brackets: brA, labels: lblA,
    yName: 'Immune score', nameGap: 89, nameShift: 20, xMargin: 14, yMargin: 18,
  });
  addBoxPanel(opt, 1, {
    grid: { left: 1008, top: 81, width: 620, height: 447 }, yMin: -2035, yMax: 2138, majors: mj4, minors: [-1500, -500, 500, 1500],
    cats: catsGrade, boxes: boxB, colors: [RED, CYAN], points: [ptsB_II, ptsB_III], brackets: brB, labels: lblA,
    yName: 'Stromal score', nameGap: 97, nameShift: 15, xMargin: 12, yMargin: 21,
  });
  addBoxPanel(opt, 2, {
    grid: { left: 157, top: 707, width: 633, height: 447 }, yMin: -2245, yMax: 2688, majors: mj4, minors: [-1500, -500, 500, 1500, 2500],
    cats: catsIDH, boxes: boxC, colors: [RED, CYAN], points: [ptsC_MUT, ptsC_WT], brackets: brC, labels: lblA,
    yName: 'Immune score', nameGap: 83, nameShift: 11, xMargin: 15, yMargin: 27,
  });
  addBoxPanel(opt, 3, {
    grid: { left: 988, top: 705, width: 634, height: 447 }, yMin: -2025, yMax: 2142, majors: mj4, minors: [-1500, -500, 500, 1500],
    cats: catsIDH, boxes: boxD, colors: [RED, CYAN], points: [ptsD_MUT, ptsD_WT], brackets: brD, labels: lblA,
    yName: 'Stromal score', nameGap: 77, nameShift: 15, xMargin: 11, yMargin: 18,
  });
  addBoxPanel(opt, 4, {
    grid: { left: 155, top: 1305, width: 651, height: 448 }, yMin: -2398, yMax: 5366, majors: [-2000, 0, 2000, 4000], minors: [-1000, 1000, 3000, 5000],
    cats: catsSub, boxes: boxE, colors: [RED, GREEN, CYAN, PURPLE], points: [ptsE_CL, ptsE_ME, ptsE_NE, ptsE_PN], brackets: brE, labels: lblE,
    yName: 'immune score', nameGap: 81, nameShift: 31, xMargin: 25, yMargin: 22,
  });
  addBoxPanel(opt, 5, {
    grid: { left: 975, top: 1305, width: 651, height: 448 }, yMin: -2141, yMax: 4403, majors: [-2000, 0, 2000, 4000], minors: [-1000, 1000, 3000],
    cats: catsSub, boxes: boxF, colors: [RED, GREEN, CYAN, PURPLE], points: [ptsF_CL, ptsF_ME, ptsF_NE, ptsF_PN], brackets: brF, labels: lblF,
    yName: 'Stromal score', nameGap: 64, nameShift: 31, xMargin: 20, yMargin: 20,
  });
  addKmPanel(opt, 6, {
    grid: { left: 160, top: 1991, width: 635, height: 397 }, xMin: -281, xMax: 6305,
    hiT: gHighT, hiS: gHighS, loT: gLowT, loS: gLowS, hiC: gHighC, loC: gLowC,
    nameGapY: 69, nameShiftY: 36, nameGapX: 37, nameShiftX: 22, xMargin: 10, yMargin: 17,
  });
  addKmPanel(opt, 7, {
    grid: { left: 982, top: 1989, width: 640, height: 397 }, xMin: -280, xMax: 6310,
    hiT: hHighT, hiS: hHighS, loT: hLowT, loS: hLowS, hiC: hHighC, loC: hLowC,
    nameGapY: 71, nameShiftY: 34, nameGapX: 33, nameShiftX: 39, xMargin: 9, yMargin: 19,
  });

  const legendBase = {
    orient: 'horizontal', padding: 0, itemWidth: 22, itemHeight: 14, selectedMode: false,
    data: [{ name: 'high(255)', icon: LEG_ICON }, { name: 'low(256)', icon: LEG_ICON }],
  };
  opt.legend = [
    { ...legendBase, left: 305, top: 1940, itemGap: 40, textStyle: { fontSize: FS, color: '#000', fontFamily: FONT, padding: [0, 0, 0, 21] } },
    { ...legendBase, left: 1212, top: 1940, itemGap: 44, textStyle: { fontSize: FS, color: '#000', fontFamily: FONT, padding: [0, 0, 0, 20] } },
  ];

  const letter = (t: string, x: number, y: number) => ({
    type: 'text', x, y, silent: true,
    style: { text: t, fill: '#404040', fontSize: 34, fontWeight: 'bold', fontFamily: FONT, verticalAlign: 'middle', align: 'left' },
  });
  const txt = (t: string, x: number, y: number, align: string) => ({
    type: 'text', x, y, silent: true,
    style: { text: t, fill: '#000', fontSize: FS, fontFamily: FONT, verticalAlign: 'middle', align },
  });
  opt.graphic = [
    letter('A', 0, 18), letter('B', 830, 18), letter('C', 2, 645), letter('D', 833, 646),
    letter('E', 3, 1257), letter('F', 831, 1260), letter('G', 3, 1911), letter('H', 825, 1911),
    txt('Immune Score', 409, 1921, 'center'), txt('Stromal Score', 1312, 1921, 'center'),
    txt('Log-rank test', 744, 2118, 'right'), txt('p = 0.015', 744, 2148, 'right'),
    txt('Log-rank test', 1590, 2118, 'right'), txt('p = 0.006', 1590, 2148, 'right'),
  ];
  return opt;
}

export default function App() {
  const ref = useRef<HTMLDivElement>(null);
  useEffect(() => {
    if (!ref.current) return;
    const chart = echarts.init(ref.current, null, { renderer: 'svg', width: 1630, height: 2446 });
    chart.setOption(buildOption());
    return () => chart.dispose();
  }, []);
  return <div ref={ref} style={{ position: 'absolute', left: 0, top: 0, width: 1630, height: 2446, background: '#fff' }} />;
}
